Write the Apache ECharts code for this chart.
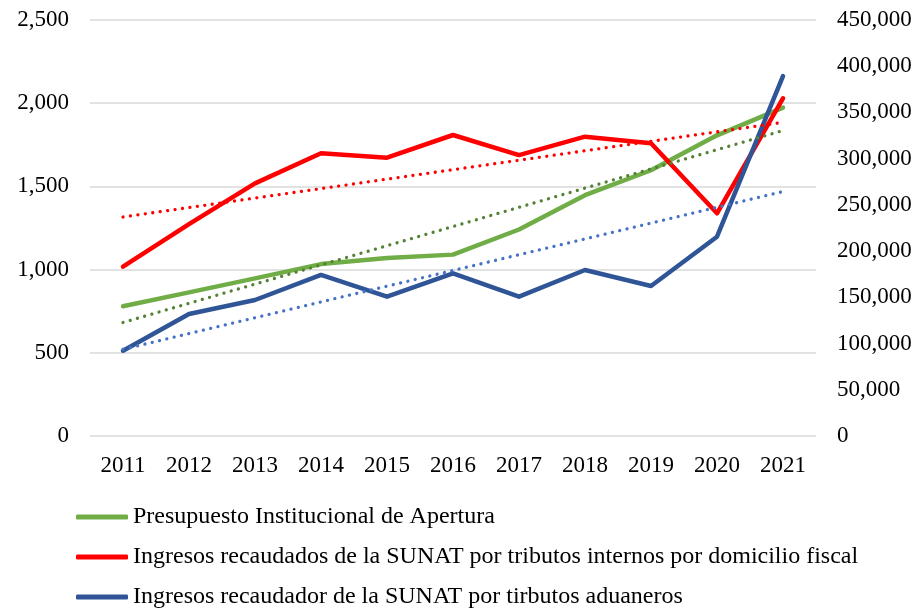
<!DOCTYPE html>
<html>
<head>
<meta charset="utf-8">
<script src="https://cdn.jsdelivr.net/npm/echarts@6/dist/echarts.min.js"></script>
<style>
  html, body { margin: 0; padding: 0; background: #fff; }
  #chart { width: 921px; height: 611px; }
</style>
</head>
<body>
<div id="chart"></div>
<script>
const years = ['2011', '2012', '2013', '2014', '2015', '2016', '2017', '2018', '2019', '2020', '2021']
const presupuesto = [780, 863, 947, 1033, 1070, 1090, 1241, 1447, 1597, 1807, 1973]
const internos = [183100, 229300, 273300, 305800, 301100, 325600, 303900, 323800, 316600, 240900, 365300]
const aduaneros = [92300, 132000, 147100, 174200, 150700, 176000, 150700, 179600, 162300, 215600, 389400]

const names = [
    'Presupuesto Institucional de Apertura',
    'Ingresos recaudados de la SUNAT por tributos internos por domicilio fiscal',
    'Ingresos recaudador de la SUNAT por tirbutos aduaneros'
]

// linear trendline (least squares), like the Excel dotted lines
const trend = (arr) => {
    const n = arr.length
    const mx = (n - 1) / 2
    const my = arr.reduce((a, b) => a + b, 0) / n
    let sxy = 0, sxx = 0
    arr.forEach((v, i) => { sxy += (i - mx) * (v - my); sxx += (i - mx) * (i - mx) })
    const b = sxy / sxx
    return arr.map((_, i) => +(my + b * (i - mx)).toFixed(1))
}

const font = 'Liberation Serif, Times New Roman, serif'
const fmt = (v) => v.toLocaleString('en-US')

const mainLine = (name, data, color, axis) => ({
    name: name,
    type: 'line',
    yAxisIndex: axis,
    data: data,
    symbol: 'none',
    lineStyle: { color: color, width: 4.5, cap: 'round', join: 'round' },
    itemStyle: { color: color }
})

const trendLine = (data, color, axis) => ({
    name: 'trend',
    type: 'line',
    yAxisIndex: axis,
    data: data,
    symbol: 'none',
    silent: true,
    z: 3,
    lineStyle: { color: color, width: 3.3, type: [0.01, 7.5], cap: 'round' }
})

const myChart = echarts.init(document.getElementById('chart'))
const option = {
    animation: false,
    backgroundColor: '#fff',
    grid: { left: 90, right: 105, top: 20, bottom: 175 },
    legend: {
        data: names,
        orient: 'vertical',
        left: 76,
        top: 505,
        padding: 0,
        height: 110,
        itemWidth: 52,
        itemHeight: 5,
        itemGap: 16,
        icon: 'roundRect',
        textStyle: { fontFamily: font, fontSize: 24, color: '#000' }
    },
    xAxis: {
        type: 'category',
        data: years,
        boundaryGap: true,
        axisLine: { show: false },
        axisTick: { show: false },
        axisLabel: { fontFamily: font, fontSize: 23, color: '#000', margin: 18 }
    },
    yAxis: [
        {
            type: 'value',
            min: 0, max: 2500, interval: 500,
            axisLine: { show: false },
            axisTick: { show: false },
            splitLine: { lineStyle: { color: '#d9d9d9', width: 1.5 } },
            axisLabel: { fontFamily: font, fontSize: 23, color: '#000', margin: 21, formatter: fmt }
        },
        {
            type: 'value',
            min: 0, max: 450000, interval: 50000,
            axisLine: { show: false },
            axisTick: { show: false },
            splitLine: { show: false },
            axisLabel: { fontFamily: font, fontSize: 23, color: '#000', margin: 21, formatter: fmt }
        }
    ],
    series: [
        mainLine(names[0], presupuesto, '#70AD47', 0),
        mainLine(names[1], internos, '#FF0000', 1),
        mainLine(names[2], aduaneros, '#2F5597', 1),
        trendLine(trend(presupuesto), '#548235', 0),
        trendLine(trend(internos), '#FF0000', 1),
        trendLine(trend(aduaneros), '#4472C4', 1)
    ]
}
myChart.setOption(option)
</script>
</body>
</html>
